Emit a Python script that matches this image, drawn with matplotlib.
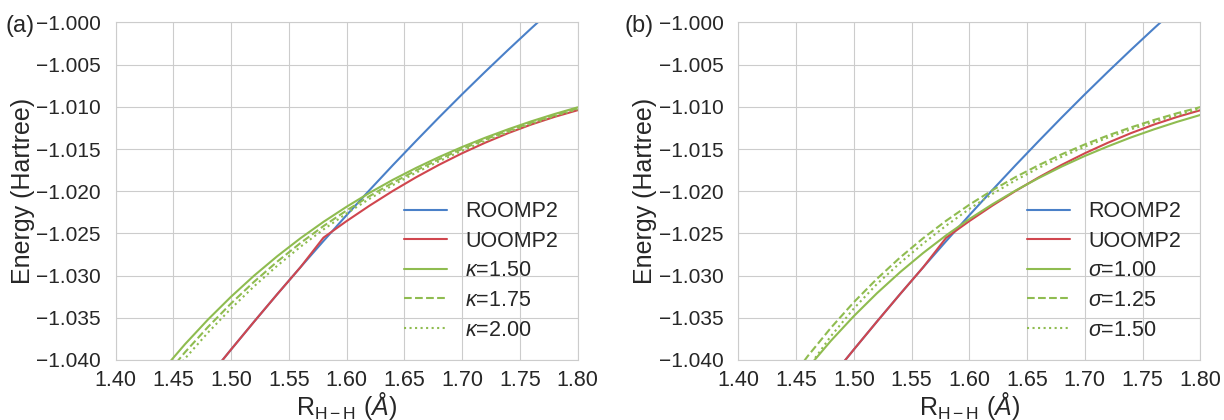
import numpy as np
import matplotlib
matplotlib.use("Agg")
import matplotlib.pyplot as plt
from matplotlib.ticker import FuncFormatter
import seaborn as sns

sns.set_style("whitegrid")
plt.rcParams['font.family'] = ['Liberation Sans', 'DejaVu Sans']
plt.rcParams['mathtext.fontset'] = 'custom'
plt.rcParams['mathtext.rm'] = 'Liberation Sans'
plt.rcParams['mathtext.it'] = 'Liberation Sans:italic'

# bond length grid (Angstrom)
r = [1.44, 1.46, 1.48, 1.50, 1.52, 1.54, 1.56, 1.58, 1.60, 1.62,
     1.64, 1.66, 1.68, 1.70, 1.72, 1.74, 1.76, 1.78, 1.80]

# energies (Hartree)
roomp2 = [-1.04906, -1.04556, -1.04213, -1.03876, -1.03545, -1.03220, -1.02902, -1.02590, -1.02284, -1.01985,
          -1.01692, -1.01406, -1.01125, -1.00851, -1.00584, -1.00323, -1.00068, -0.99819, -0.99576]
uoomp2 = [-1.04906, -1.04556, -1.04213, -1.03876, -1.03545, -1.03220, -1.02902, -1.02550, -1.02354, -1.02170,
          -1.01997, -1.01836, -1.01687, -1.01550, -1.01425, -1.01311, -1.01209, -1.01119, -1.01040]

kappa_150 = [-1.04134, -1.03815, -1.03521, -1.03250, -1.03000, -1.02770, -1.02558, -1.02363, -1.02184, -1.02018,
             -1.01865, -1.01725, -1.01595, -1.01476, -1.01366, -1.01265, -1.01171, -1.01085, -1.01006]
kappa_175 = [-1.04239, -1.03910, -1.03609, -1.03330, -1.03072, -1.02834, -1.02615, -1.02413, -1.02228, -1.02057,
             -1.01899, -1.01755, -1.01621, -1.01499, -1.01386, -1.01282, -1.01186, -1.01098, -1.01017]
kappa_200 = [-1.04324, -1.03985, -1.03676, -1.03390, -1.03126, -1.02883, -1.02659, -1.02453, -1.02264, -1.02089,
             -1.01928, -1.01781, -1.01645, -1.01520, -1.01405, -1.01299, -1.01201, -1.01111, -1.01028]

sigma_100 = [-1.04448, -1.04097, -1.03775, -1.03480, -1.03209, -1.02960, -1.02732, -1.02522, -1.02330, -1.02154,
             -1.01992, -1.01844, -1.01707, -1.01582, -1.01468, -1.01362, -1.01266, -1.01177, -1.01096]
sigma_125 = [-1.04327, -1.03956, -1.03621, -1.03315, -1.03038, -1.02786, -1.02557, -1.02349, -1.02160, -1.01988,
             -1.01832, -1.01691, -1.01562, -1.01445, -1.01339, -1.01243, -1.01155, -1.01075, -1.01003]
sigma_150 = [-1.04520, -1.04100, -1.03720, -1.03390, -1.03100, -1.02850, -1.02620, -1.02407, -1.02210, -1.02031,
             -1.01870, -1.01724, -1.01592, -1.01472, -1.01364, -1.01266, -1.01177, -1.01097, -1.01024]

kappa_labels = [r'$\kappa$=1.50', r'$\kappa$=1.75', r'$\kappa$=2.00']
sigma_labels = [r'$\sigma$=1.00', r'$\sigma$=1.25', r'$\sigma$=1.50']

BLUE, RED, GREEN = '#4a80c8', '#d0464e', '#8fbc50'
styles = ['-', '--', ':']

fig = plt.figure(figsize=(12.24, 4.2), dpi=100)
axa = fig.add_axes([0.0944, 0.1429, 0.3775, 0.8036])
axb = fig.add_axes([0.6032, 0.1429, 0.3775, 0.8036])

panels = [(axa, [kappa_150, kappa_175, kappa_200], kappa_labels, '(a)', 0.0045),
          (axb, [sigma_100, sigma_125, sigma_150], sigma_labels, '(b)', 0.5100)]

yfmt = FuncFormatter(lambda v, p: f"{v:.3f}".replace('-', '\u2212'))
xfmt = FuncFormatter(lambda v, p: f"{v:.2f}")

for ax, greens, labels, tag, tx in panels:
    ax.plot(r, roomp2, color=BLUE, lw=1.5, label='ROOMP2')
    ax.plot(r, uoomp2, color=RED, lw=1.5, label='UOOMP2')
    for g, lab, ls in zip(greens, labels, styles):
        ax.plot(r, g, color=GREEN, lw=1.5, ls=ls, label=lab)
    ax.set_xlim(1.40, 1.80)
    ax.set_ylim(-1.040, -1.000)
    ax.set_xticks(np.arange(1.40, 1.801, 0.05))
    ax.set_yticks(np.arange(-1.040, -0.9999, 0.005))
    ax.xaxis.set_major_formatter(xfmt)
    ax.yaxis.set_major_formatter(yfmt)
    ax.tick_params(axis='x', labelsize=15.5, pad=4)
    ax.tick_params(axis='y', labelsize=15, pad=7)
    ax.set_xlabel(r'R$_{\rm H-H}$ ($\mathit{Å}$)', fontsize=18, labelpad=-1)
    ax.set_ylabel('Energy (Hartree)', fontsize=18, labelpad=1)
    ax.legend(loc='lower right', frameon=False, fontsize=15.5, handlelength=2.0,
              handletextpad=0.85, labelspacing=0.4, bbox_to_anchor=(1.0, 0.0))
    fig.text(tx, 0.939, tag, fontsize=17, va='center')

fig.savefig('out.png', dpi=100)
